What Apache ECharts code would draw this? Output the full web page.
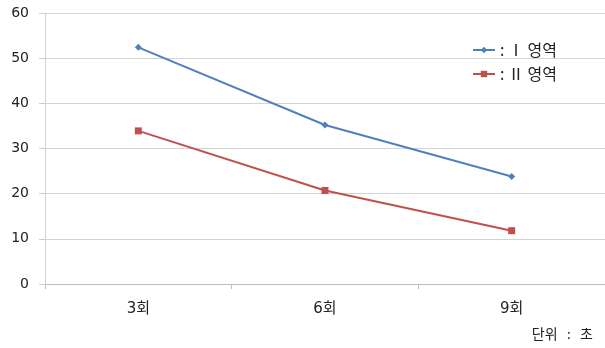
<!DOCTYPE html>
<html>
<head>
<meta charset="utf-8">
<script src="https://cdn.jsdelivr.net/npm/echarts@6/dist/echarts.min.js"></script>
<style>
  html, body { margin: 0; padding: 0; background: #fff; }
  #chart { width: 605px; height: 348px; }
</style>
</head>
<body>
<div id="chart"></div>
<script>
// Categories and values for each region
const categories = ['3회', '6회', '9회'];
const region1 = [52.4, 35.2, 23.8];
const region2 = [33.9, 20.7, 11.8];
const yTicks = { min: 0, max: 60, interval: 10 };
const seriesNames = [': Ⅰ 영역', ': Ⅱ 영역'];
const unitNote = '단위  :  초';

const font = '"DejaVu Sans", "Noto Sans CJK KR", sans-serif';
const cjkFont = '"Noto Sans CJK KR", sans-serif';
const chart = echarts.init(document.getElementById('chart'));

chart.setOption({
  animation: false,
  textStyle: { fontFamily: font },
  grid: { left: 45, right: -2, top: 13, bottom: 64, containLabel: false },
  xAxis: {
    type: 'category',
    data: categories,
    boundaryGap: true,
    axisLine: { lineStyle: { color: '#bfbfbf', width: 1 } },
    axisTick: { show: true, length: 5, lineStyle: { color: '#bfbfbf' } },
    axisLabel: { color: '#222', fontSize: 15, margin: 18, fontFamily: font }
  },
  yAxis: {
    type: 'value',
    min: yTicks.min,
    max: yTicks.max,
    interval: yTicks.interval,
    axisLine: { show: true, lineStyle: { color: '#d0d0d0' } },
    axisTick: { show: true, length: 6, inside: false, lineStyle: { color: '#d0d0d0' } },
    axisLabel: { color: '#222', fontSize: 14, margin: 16, fontFamily: font },
    splitLine: { lineStyle: { color: '#d4d4d4', width: 1 } }
  },
  legend: {
    orient: 'vertical',
    left: 467,
    top: 37,
    itemWidth: 22,
    itemHeight: 8,
    itemGap: 8,
    textStyle: { color: '#222', fontSize: 16, fontFamily: cjkFont },
    data: seriesNames
  },
  graphic: [{
    type: 'text',
    right: 12,
    top: 328,
    style: { text: unitNote, fill: '#222', font: '14px ' + font }
  }],
  series: [
    {
      name: seriesNames[0],
      type: 'line',
      data: region1,
      symbol: 'diamond',
      symbolSize: 7,
      lineStyle: { color: '#4f81bd', width: 2 },
      itemStyle: { color: '#4f81bd' }
    },
    {
      name: seriesNames[1],
      type: 'line',
      data: region2,
      symbol: 'rect',
      symbolSize: 7,
      lineStyle: { color: '#c0504d', width: 2 },
      itemStyle: { color: '#c0504d' }
    }
  ]
});
</script>
</body>
</html>
